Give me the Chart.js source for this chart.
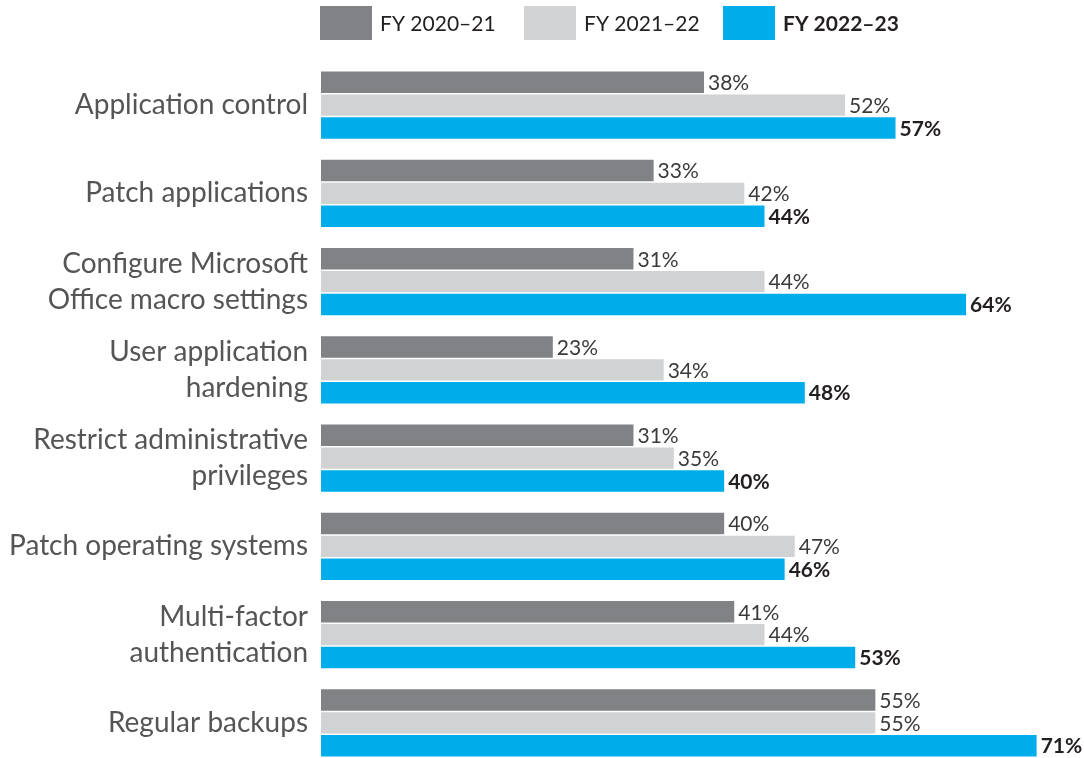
<!DOCTYPE html>
<html>
<head>
<meta charset="utf-8">
<script src="https://cdn.jsdelivr.net/npm/chart.js@4.4.0/dist/chart.umd.min.js"></script>
<style>
  html, body { margin: 0; padding: 0; background: #fff; height: 758px; overflow: hidden; }
  canvas { display: block; }
</style>
</head>
<body>
<canvas id="barChart" width="1084" height="767"></canvas>
<script>
const categories = [
  "Application control",
  "Patch applications",
  ["Configure Microsoft", "Office macro settings"],
  ["User application", "hardening"],
  ["Restrict administrative", "privileges"],
  "Patch operating systems",
  ["Multi-factor", "authentication"],
  "Regular backups"
];
const seriesLabels = ["FY 2020\u201321", "FY 2021\u201322", "FY 2022\u201323"];
const fy2021 = [38, 33, 31, 23, 31, 40, 41, 55];
const fy2122 = [52, 42, 44, 34, 35, 47, 44, 55];
const fy2223 = [57, 44, 64, 48, 40, 46, 53, 71];
const colors = ["#818286", "#d1d2d4", "#00adeb"];

const FONT = "Lato, 'Open Sans', sans-serif";

// value labels at the end of each bar
const valueLabels = {
  id: "valueLabels",
  afterDatasetsDraw(chart) {
    const ctx = chart.ctx;
    ctx.save();
    ctx.textBaseline = "middle";
    ctx.textAlign = "left";
    chart.data.datasets.forEach((ds, i) => {
      const meta = chart.getDatasetMeta(i);
      const bold = i === 2;
      ctx.font = (bold ? "bold " : "") + "21px " + FONT;
      ctx.fillStyle = bold ? "#231f20" : "#3a3a3a";
      meta.data.forEach((bar, j) => {
        ctx.fillText(ds.data[j] + "%", bar.x + 4, bar.y + 1);
      });
    });
    ctx.restore();
  }
};

// legend row at the top
const topLegend = {
  id: "topLegend",
  afterDraw(chart) {
    const ctx = chart.ctx;
    const xs = [320, 524, 723];
    ctx.save();
    ctx.textBaseline = "middle";
    chart.data.datasets.forEach((ds, i) => {
      ctx.fillStyle = ds.backgroundColor;
      ctx.fillRect(xs[i], 6, 52, 34);
      ctx.font = (i === 2 ? "bold " : "") + "21px " + FONT;
      ctx.fillStyle = "#231f20";
      ctx.fillText(ds.label, xs[i] + 60, 24);
    });
    ctx.restore();
  }
};

new Chart(document.getElementById("barChart"), {
  type: "bar",
  data: {
    labels: categories,
    datasets: [
      { label: seriesLabels[0], data: fy2021, backgroundColor: colors[0] },
      { label: seriesLabels[1], data: fy2122, backgroundColor: colors[1] },
      { label: seriesLabels[2], data: fy2223, backgroundColor: colors[2] }
    ]
  },
  options: {
    indexAxis: "y",
    responsive: false,
    animation: false,
    layout: { padding: { top: 61, left: 0, right: 0, bottom: 0 } },
    datasets: {
      bar: { categoryPercentage: 0.775, barPercentage: 0.94 }
    },
    scales: {
      x: { display: false, min: 0, max: 75.7 },
      y: {
        grid: { display: false, drawTicks: false },
        border: { display: false },
        afterFit(scale) {
          scale.width = 321;
          scale.paddingTop = 0;
          scale.paddingBottom = 0;
        },
        ticks: {
          padding: 13,
          color: "#555555",
          font: { family: FONT, size: 28, lineHeight: 1.29 }
        }
      }
    },
    plugins: {
      legend: { display: false },
      tooltip: { enabled: false }
    }
  },
  plugins: [valueLabels, topLegend]
});
</script>
</body>
</html>
